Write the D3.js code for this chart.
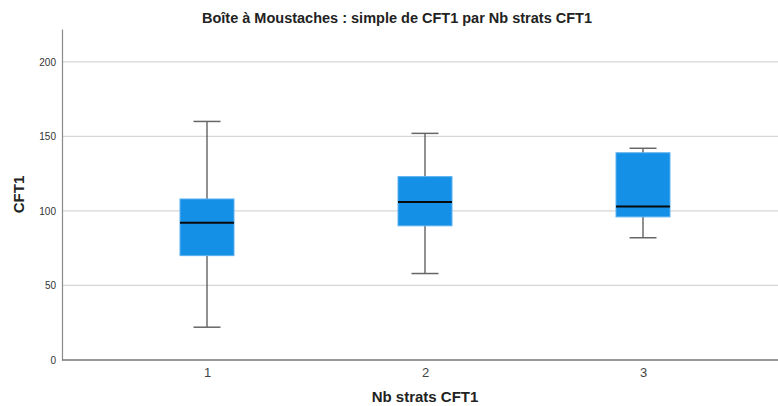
<!DOCTYPE html>
<html>
<head>
<meta charset="utf-8">
<script src="https://cdn.jsdelivr.net/npm/d3@7/dist/d3.min.js"></script>
<style>
  body { margin: 0; background: #fff; }
  svg { display: block; font-family: "Liberation Sans", Arial, sans-serif; }
</style>
</head>
<body>
<div id="chart"></div>
<script>
// categories and box statistics
var categories = ["1", "2", "3"];
var whiskerLow = [22, 58, 82];
var q1 = [70, 90, 96];
var median = [92, 106, 103];
var q3 = [108, 123, 139];
var whiskerHigh = [160, 152, 142];
var yTicks = [0, 50, 100, 150, 200];

var width = 778, height = 406;
var margin = {top: 29, right: 0, bottom: 46, left: 62};

var svg = d3.select("#chart").append("svg")
    .attr("width", width)
    .attr("height", height);

var y = d3.scaleLinear().domain([0, 222]).range([height - margin.bottom, margin.top]);
var x = d3.scalePoint().domain(categories).range([margin.left + 145, width - 135]);

var data = categories.map(function (c, i) {
    return {cat: c, lo: whiskerLow[i], q1: q1[i], med: median[i], q3: q3[i], hi: whiskerHigh[i]};
});

// gridlines
svg.append("g")
    .selectAll("line")
    .data(yTicks.filter(function (d) { return d > 0; }))
    .enter().append("line")
    .attr("x1", margin.left).attr("x2", width)
    .attr("y1", function (d) { return y(d); })
    .attr("y2", function (d) { return y(d); })
    .attr("stroke", "#d6d6d6")
    .attr("stroke-width", 1.3);

// y axis
var yAxis = svg.append("g")
    .attr("transform", "translate(" + margin.left + ",0)")
    .call(d3.axisLeft(y).tickValues(yTicks).tickSize(0).tickPadding(6));
yAxis.select(".domain").attr("stroke", "#8a8a8a").attr("stroke-width", 1.2);
yAxis.selectAll("text").attr("font-size", 10).attr("fill", "#333")
    .attr("font-family", "Liberation Sans, Arial, sans-serif");

// x axis
var xAxis = svg.append("g")
    .attr("transform", "translate(0," + y(0) + ")")
    .call(d3.axisBottom(x).tickSize(0).tickPadding(8));
xAxis.select(".domain").attr("d", "M" + margin.left + ",0H" + width)
    .attr("stroke", "#777").attr("stroke-width", 1.5);
xAxis.selectAll("text").attr("font-size", 13).attr("fill", "#444")
    .attr("font-family", "Liberation Sans, Arial, sans-serif");

// boxes
var boxW = 54, capW = 27;
var g = svg.append("g").selectAll("g").data(data).enter().append("g");

g.append("line")
    .attr("x1", function (d) { return x(d.cat); })
    .attr("x2", function (d) { return x(d.cat); })
    .attr("y1", function (d) { return y(d.lo); })
    .attr("y2", function (d) { return y(d.hi); })
    .attr("stroke", "#555").attr("stroke-width", 1.3);

g.selectAll(".cap")
    .data(function (d) { return [{c: d.cat, v: d.lo}, {c: d.cat, v: d.hi}]; })
    .enter().append("line")
    .attr("x1", function (d) { return x(d.c) - capW / 2; })
    .attr("x2", function (d) { return x(d.c) + capW / 2; })
    .attr("y1", function (d) { return y(d.v); })
    .attr("y2", function (d) { return y(d.v); })
    .attr("stroke", "#666").attr("stroke-width", 1.5);

g.append("rect")
    .attr("x", function (d) { return x(d.cat) - boxW / 2; })
    .attr("width", boxW)
    .attr("y", function (d) { return y(d.q3); })
    .attr("height", function (d) { return y(d.q1) - y(d.q3); })
    .attr("fill", "#1490e6")
    .attr("stroke", "#5cb1f0").attr("stroke-width", 1);

g.append("line")
    .attr("x1", function (d) { return x(d.cat) - boxW / 2; })
    .attr("x2", function (d) { return x(d.cat) + boxW / 2; })
    .attr("y1", function (d) { return y(d.med); })
    .attr("y2", function (d) { return y(d.med); })
    .attr("stroke", "#0a0a0a").attr("stroke-width", 2);

// titles
svg.append("text")
    .attr("x", 397).attr("y", 23)
    .attr("text-anchor", "middle")
    .attr("font-size", 14.5).attr("font-weight", "bold").attr("fill", "#222")
    .text("Boîte à Moustaches : simple de CFT1 par Nb strats CFT1");

svg.append("text")
    .attr("x", 425).attr("y", 402)
    .attr("text-anchor", "middle")
    .attr("font-size", 15).attr("font-weight", "bold").attr("fill", "#222")
    .text("Nb strats CFT1");

svg.append("text")
    .attr("transform", "translate(24," + y(111) + ") rotate(-90)")
    .attr("text-anchor", "middle")
    .attr("font-size", 15).attr("font-weight", "bold").attr("fill", "#222")
    .text("CFT1");
</script>
</body>
</html>
